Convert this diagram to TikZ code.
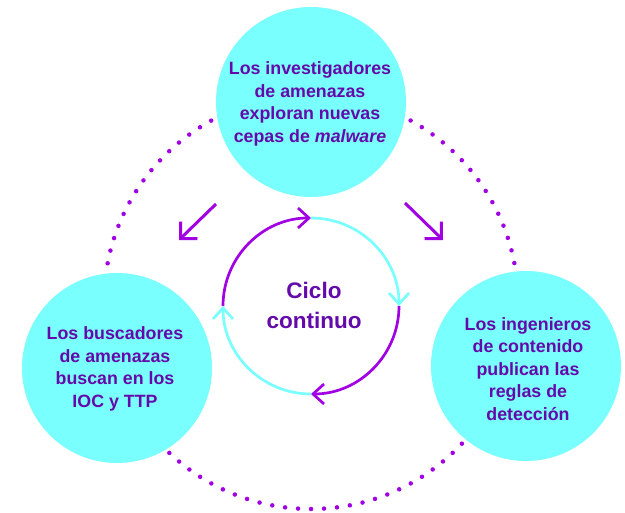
\documentclass[tikz,border=0pt]{standalone}
\usepackage{fontspec}
\setmainfont{Liberation Sans}
\usetikzlibrary{arrows.meta}
\definecolor{cyanfill}{RGB}{122,255,255}
\definecolor{txtpurple}{RGB}{100,10,170}
\definecolor{violet}{RGB}{160,0,226}
\tikzset{
  bubble/.style={circle, fill=cyanfill, draw=none, minimum size=190pt, inner sep=0pt},
  txt/.style={text=txtpurple, align=center, inner sep=0pt, font=\fontsize{17.8}{22.5}\selectfont\bfseries},
  ctxt/.style={text=txtpurple, align=center, inner sep=0pt, font=\fontsize{22.5}{30}\selectfont\bfseries},
  dotline/.style={draw=violet, line width=4.5pt, line cap=round, dash pattern=on 0pt off 13.006pt},
  cyclepurple/.style={draw=violet, line width=2.7pt, -{Straight Barb[length=11pt,width=20pt,line width=2.7pt]}},
  cyclecyan/.style={draw=cyanfill, line width=2.7pt, -{Straight Barb[length=11pt,width=20pt,line width=2.7pt]}},
  bigarrow/.style={draw=violet, line width=3pt, -{Straight Barb[length=12pt,width=24pt,line width=3pt]}}
}
\begin{document}
\begin{tikzpicture}[x=1pt,y=-1pt]
\useasboundingbox (0,0) rectangle (625,513);
% dotted big circle
\coordinate (bigc) at (311,302);
\draw[dotline] (bigc) circle[radius=207];
% bubbles
\node[bubble] (top) at (311,102) {};
\node[bubble] (left) at (117,368) {};
\node[bubble] (right) at (526,366) {};
% texts
\node[txt] (ttop) at (310,104) {Los investigadores\\de amenazas\\exploran nuevas\\cepas de \textit{malware}};
\node[txt] (tleft) at (115,369) {Los buscadores\\de amenazas\\buscan en los\\IOC y TTP};
\node[txt] (tright) at (528,369) {Los ingenieros\\de contenido\\publican las\\reglas de\\detección};
% central cycle
\coordinate (cc) at (311,306);
\node[ctxt] (cyc) at (314,305) {Ciclo\\continuo};
\draw[cyclepurple] (cc) ++(180:88) arc[start angle=180, end angle=270, radius=88];
\draw[cyclecyan] (cc) ++(270:88) arc[start angle=270, end angle=360, radius=88];
\draw[cyclepurple] (cc) ++(0:88) arc[start angle=0, end angle=90, radius=88];
\draw[cyclecyan] (cc) ++(90:88) arc[start angle=90, end angle=180, radius=88];
% diagonal arrows
\coordinate (la) at (216,204);
\coordinate (lb) at (179,240);
\coordinate (ra) at (405,203);
\coordinate (rb) at (443,240);
\draw[bigarrow] (la) -- (lb);
\draw[bigarrow] (ra) -- (rb);
\end{tikzpicture}
\end{document}
